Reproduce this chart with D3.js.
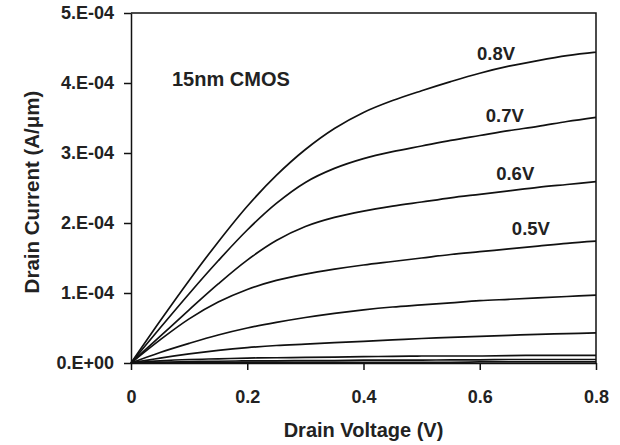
<!DOCTYPE html>
<html>
<head>
<meta charset="utf-8">
<script src="https://cdn.jsdelivr.net/npm/d3@7"></script>
<style>
body { margin: 0; background: #fff; }
text { font-family: "Liberation Sans", Arial, sans-serif; font-weight: bold; fill: #222; }
</style>
</head>
<body>
<script>
// drain voltage sample points (V)
var vd = [0, 0.05, 0.1, 0.15, 0.2, 0.25, 0.3, 0.35, 0.4, 0.45, 0.5, 0.55, 0.6, 0.65, 0.7, 0.75, 0.8];

// drain current in units of 1E-04 A/um, one array per gate voltage
var id08 = [0, 0.60, 1.18, 1.73, 2.24, 2.68, 3.05, 3.35, 3.58, 3.75, 3.89, 4.02, 4.14, 4.24, 4.32, 4.39, 4.44];
var id07 = [0, 0.50, 0.99, 1.46, 1.90, 2.28, 2.58, 2.78, 2.92, 3.02, 3.10, 3.18, 3.25, 3.32, 3.38, 3.45, 3.51];
var id06 = [0, 0.38, 0.76, 1.13, 1.47, 1.75, 1.95, 2.08, 2.17, 2.24, 2.30, 2.36, 2.41, 2.46, 2.51, 2.55, 2.59];
var id05 = [0, 0.33, 0.63, 0.87, 1.05, 1.18, 1.27, 1.34, 1.40, 1.45, 1.50, 1.55, 1.59, 1.63, 1.67, 1.71, 1.74];
var id04 = [0, 0.15, 0.28, 0.40, 0.50, 0.58, 0.65, 0.71, 0.76, 0.80, 0.83, 0.86, 0.89, 0.91, 0.93, 0.95, 0.97];
var id03 = [0, 0.07, 0.13, 0.18, 0.22, 0.25, 0.27, 0.29, 0.31, 0.33, 0.35, 0.365, 0.38, 0.395, 0.41, 0.42, 0.43];
var id02 = [0, 0.03, 0.05, 0.06, 0.07, 0.075, 0.08, 0.085, 0.09, 0.095, 0.10, 0.10, 0.10, 0.105, 0.11, 0.11, 0.11];
var id01 = [0, 0.01, 0.02, 0.025, 0.03, 0.03, 0.035, 0.035, 0.04, 0.04, 0.04, 0.045, 0.045, 0.05, 0.05, 0.05, 0.05];
var id00 = [0, 0.005, 0.01, 0.01, 0.01, 0.01, 0.01, 0.01, 0.01, 0.01, 0.01, 0.01, 0.015, 0.015, 0.015, 0.015, 0.015];

var series = [id08, id07, id06, id05, id04, id03, id02, id01, id00];

// curve labels and where they sit (V, 1E-04 A/um)
var labelText = ["0.8V", "0.7V", "0.6V", "0.5V"];
var labelX = [0.628, 0.643, 0.661, 0.688];
var labelY = [4.33, 3.44, 2.61, 1.83];

var xTicks = [0, 0.2, 0.4, 0.6, 0.8];
var yTicks = [0, 1, 2, 3, 4, 5];
var yTickText = ["0.E+00", "1.E-04", "2.E-04", "3.E-04", "4.E-04", "5.E-04"];

// plot box (window.top is taken, so own names)
var plotLeft = 131, plotTop = 13, plotW = 465, plotH = 350;

var svg = d3.select("body").append("svg").attr("width", 620).attr("height", 445);

var x = d3.scaleLinear().domain([0, 0.8]).range([plotLeft, plotLeft + plotW]);
var y = d3.scaleLinear().domain([0, 5]).range([plotTop + plotH, plotTop]);

// frame top and right
svg.append("path")
		.attr("d", "M" + x(0) + "," + y(5) + "H" + x(0.8) + "V" + y(0))
		.attr("fill", "none")
		.attr("stroke", "#111")
		.attr("stroke-width", 1.5);

var xAxis = svg.append("g")
		.attr("transform", "translate(0," + y(0) + ")")
		.call(d3.axisBottom(x).tickValues(xTicks).tickSize(7).tickSizeOuter(0)
				.tickFormat(function(d){return d === 0 ? "0" : d3.format(".1f")(d);}));

var yAxis = svg.append("g")
		.attr("transform", "translate(" + x(0) + ",0)")
		.call(d3.axisLeft(y).tickValues(yTicks).tickSize(7).tickSizeOuter(0)
				.tickFormat(function(d,i){return yTickText[i];}));

svg.selectAll(".domain, .tick line").attr("stroke", "#111").attr("stroke-width", 1.5);
xAxis.selectAll("text").attr("font-size", 18).attr("y", 40).attr("dy", 0);
yAxis.selectAll("text").attr("font-size", 18).attr("x", -17);

var line = d3.line()
		.x(function(d,i){return x(vd[i]);})
		.y(function(d){return y(d);})
		.curve(d3.curveCatmullRom.alpha(0.5));

svg.selectAll("path.iv")
		.data(series)
		.enter().append("path")
		.attr("class", "iv")
		.attr("d", line)
		.attr("fill", "none")
		.attr("stroke", "#111")
		.attr("stroke-width", 1.7);

svg.selectAll("text.lbl")
		.data(labelText)
		.enter().append("text")
		.attr("class", "lbl")
		.attr("x", function(d,i){return x(labelX[i]);})
		.attr("y", function(d,i){return y(labelY[i]);})
		.attr("text-anchor", "middle")
		.attr("font-size", 18.5)
		.text(function(d){return d;});

svg.append("text")
		.attr("x", 172)
		.attr("y", 86)
		.attr("font-size", 20)
		.text("15nm CMOS");

svg.append("text")
		.attr("x", x(0.4))
		.attr("y", 437)
		.attr("text-anchor", "middle")
		.attr("font-size", 20)
		.text("Drain Voltage (V)");

svg.append("text")
		.attr("transform", "translate(39," + 192 + ") rotate(-90)")
		.attr("text-anchor", "middle")
		.attr("font-size", 20.5)
		.text("Drain Current (A/\u03bcm)");
</script>
</body>
</html>
